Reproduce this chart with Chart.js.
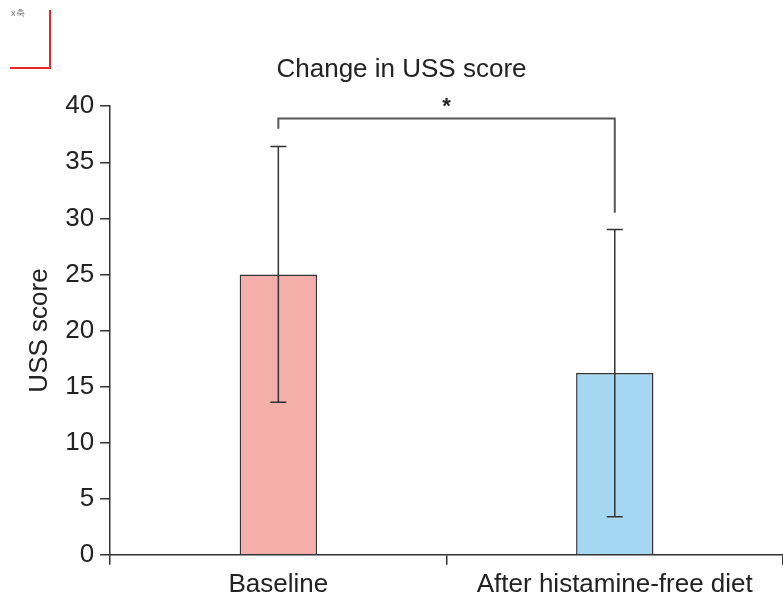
<!DOCTYPE html>
<html>
<head>
<meta charset="utf-8">
<script src="https://cdn.jsdelivr.net/npm/chart.js@4"></script>
<style>
  html, body { margin: 0; padding: 0; background: #fff; }
  #wrap { width: 783px; height: 598px; position: relative; }
</style>
</head>
<body>
<div id="wrap"><canvas id="ussChart"></canvas></div>
<script>
// data
const categories = ['Baseline', 'After histamine-free diet'];
const meanScores = [25.0, 16.2];
const errUpper = [11.4, 12.8];
const errLower = [11.4, 12.8];
const barColors = ['#f4afab', '#a5d7f3'];
const yTicks = [0, 5, 10, 15, 20, 25, 30, 35, 40];
// significance bracket: level, left leg end, right leg end
const sigLevel = 38.9;
const sigLegEnds = [38.0, 30.5];
const sigLabel = '*';

const FONT = 'Liberation Sans, Arial, sans-serif';

// error bars + significance bracket
const extras = {
  id: 'extras',
  afterDatasetsDraw(chart) {
    const ctx = chart.ctx;
    const x = chart.scales.x, y = chart.scales.y;
    const meta = chart.getDatasetMeta(0);
    ctx.save();
    ctx.strokeStyle = '#333';
    ctx.lineWidth = 1.5;
    meanScores.forEach((v, i) => {
      const cx = meta.data[i].x;
      const top = y.getPixelForValue(v + errUpper[i]);
      const bot = y.getPixelForValue(v - errLower[i]);
      ctx.beginPath();
      ctx.moveTo(cx, top); ctx.lineTo(cx, bot);
      ctx.moveTo(cx - 8, top); ctx.lineTo(cx + 8, top);
      ctx.moveTo(cx - 8, bot); ctx.lineTo(cx + 8, bot);
      ctx.stroke();
    });
    // bracket
    const x0 = x.getPixelForValue(0), x1 = x.getPixelForValue(1);
    const yl = y.getPixelForValue(sigLevel);
    ctx.strokeStyle = '#555';
    ctx.lineWidth = 2;
    ctx.beginPath();
    ctx.moveTo(x0, y.getPixelForValue(sigLegEnds[0]));
    ctx.lineTo(x0, yl);
    ctx.lineTo(x1, yl);
    ctx.lineTo(x1, y.getPixelForValue(sigLegEnds[1]));
    ctx.stroke();
    ctx.fillStyle = '#222';
    ctx.font = 'bold 22px ' + FONT;
    ctx.textAlign = 'center';
    ctx.textBaseline = 'middle';
    ctx.fillText(sigLabel, (x0 + x1) / 2, yl - 12);
    // small marker in the corner of the original scan
    ctx.strokeStyle = '#e8262b';
    ctx.lineWidth = 2;
    ctx.beginPath();
    ctx.moveTo(50, 10); ctx.lineTo(50, 68); ctx.lineTo(10, 68);
    ctx.stroke();
    ctx.fillStyle = '#777';
    ctx.font = '9px ' + FONT;
    ctx.textAlign = 'left';
    ctx.fillText('x축', 11, 14);
    ctx.restore();
  }
};

new Chart(document.getElementById('ussChart'), {
  type: 'bar',
  data: {
    labels: categories,
    datasets: [{
      data: meanScores,
      backgroundColor: barColors,
      borderColor: '#333',
      borderWidth: 1.5,
      barPercentage: 0.23,
      categoryPercentage: 1.0
    }]
  },
  options: {
    responsive: true,
    maintainAspectRatio: false,
    animation: false,
    layout: { padding: { top: 10, right: 0, left: 20, bottom: -6 } },
    plugins: {
      legend: { display: false },
      tooltip: { enabled: false },
      title: {
        display: true,
        text: 'Change in USS score',
        color: '#222',
        font: { family: FONT, size: 26, weight: 'normal' },
        padding: { top: 44, bottom: 21 }
      }
    },
    scales: {
      x: {
        grid: { display: true, offset: true, drawOnChartArea: false, color: '#333', lineWidth: 1.5, tickLength: 10 },
        border: { color: '#333', width: 1.5 },
        ticks: { color: '#222', font: { family: FONT, size: 26 }, padding: 4 }
      },
      y: {
        min: 0,
        max: 40,
        afterBuildTicks(axis) { axis.ticks = yTicks.map(v => ({ value: v })); },
        grid: { display: true, drawOnChartArea: false, color: '#333', lineWidth: 1.5, tickLength: 10 },
        border: { color: '#333', width: 1.5 },
        ticks: { color: '#222', font: { family: FONT, size: 26 }, padding: 6 },
        title: {
          display: true,
          text: 'USS score',
          color: '#222',
          font: { family: FONT, size: 26 },
          padding: { bottom: 4 }
        }
      }
    }
  },
  plugins: [extras]
});
</script>
</body>
</html>
